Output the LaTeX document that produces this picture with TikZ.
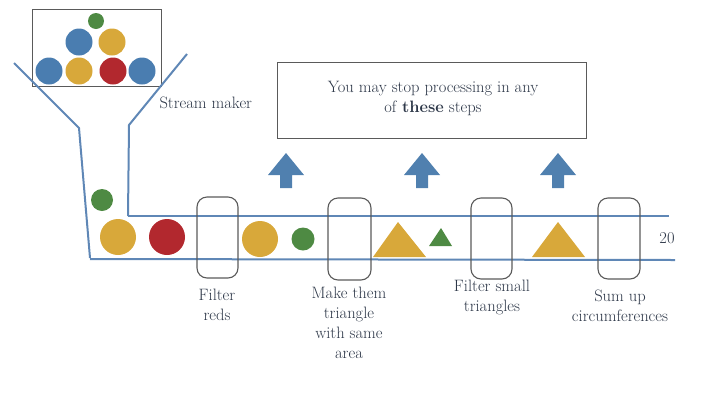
\documentclass[tikz,border=0pt]{standalone}
\usepackage{xcolor}
\definecolor{bblue}{RGB}{74,125,176}
\definecolor{byel}{RGB}{216,168,58}
\definecolor{bred}{RGB}{178,40,46}
\definecolor{bgreen}{RGB}{78,138,67}
\definecolor{lblue}{RGB}{95,135,182}
\definecolor{arrblue}{RGB}{80,128,175}
\definecolor{txt}{RGB}{45,55,72}
\definecolor{boxgray}{RGB}{90,90,90}
\begin{document}
\begin{tikzpicture}[x=1pt,y=-1pt,
  ball/.style={circle,inner sep=0pt,minimum size=#1},
  fbox/.style={draw=boxgray,line width=1.1pt,rounded corners=10pt},
  belt/.style={draw=lblue,line width=2pt},
  lbl/.style={text=txt,font=\fontsize{16.5}{20}\selectfont,align=center},
  uparrow/.style={fill=arrblue}
]
\useasboundingbox (0,0) rectangle (712,416);
% top box with balls
\draw[draw=boxgray,line width=1pt] (32,9) rectangle (161,86);
\node[ball=16pt,fill=bgreen] (g0) at (96,21) {};
\node[ball=27pt,fill=bblue] (b1) at (79,42) {};
\node[ball=27pt,fill=byel] (y1) at (112,42) {};
\node[ball=27pt,fill=bblue] (b2) at (49,71) {};
\node[ball=27pt,fill=byel] (y2) at (79,71) {};
\node[ball=27pt,fill=bred] (r1) at (113,71) {};
\node[ball=27pt,fill=bblue] (b3) at (142,71) {};
% funnel
\draw[belt] (14,63) -- (79,128) -- (90,258);
\draw[belt] (187,54) -- (129,125) -- (128,216);
% belt
\draw[belt] (128,216) -- (669,216);
\draw[belt] (90,259) -- (675,260);
\node[lbl,anchor=west] (sm) at (156,103) {Stream maker};
% balls on belt
\node[ball=22pt,fill=bgreen] (g1) at (102,200) {};
\node[ball=36pt,fill=byel] (y3) at (118,237) {};
\node[ball=36pt,fill=bred] (r2) at (167,237) {};
\node[ball=36pt,fill=byel] (y4) at (260,239) {};
\node[ball=23pt,fill=bgreen] (g2) at (303,239) {};
\fill[byel] (373,257) -- (398,222) -- (426,257) -- cycle;
\fill[bgreen] (429,246) -- (441,228) -- (452,246) -- cycle;
\fill[byel] (532,257) -- (558,222) -- (585,257) -- cycle;
% filters
\draw[fbox] (197,197) rectangle (238,278);
\draw[fbox] (328,198) rectangle (371,280);
\draw[fbox] (471,198) rectangle (512,279);
\draw[fbox] (598,198) rectangle (640,279);
\node[lbl] (n20) at (667,238) {20};
% labels
\node[lbl,anchor=north] (l1) at (217,286) {Filter\\reds};
\node[lbl,anchor=north] (l2) at (349,284) {Make them\\triangle\\with same\\area};
\node[lbl,anchor=north] (l3) at (492,277) {Filter small\\triangles};
\node[lbl,anchor=north] (l4) at (620,286) {Sum up\\circumferences};
% top message
\draw[draw=boxgray,line width=1pt] (277,62) rectangle (586,138);
\node[lbl] (msg) at (433,98) {You may stop processing in any\\of \textbf{these} steps};
% arrows
\foreach \cx/\nm in {286/a1,422/a2,558/a3}{
  \fill[uparrow] (\cx-6,188) -- (\cx-6,175) -- (\cx-18,175) -- (\cx,153) -- (\cx+18,175) -- (\cx+6,175) -- (\cx+6,188) -- cycle;
}
\end{tikzpicture}
\end{document}
